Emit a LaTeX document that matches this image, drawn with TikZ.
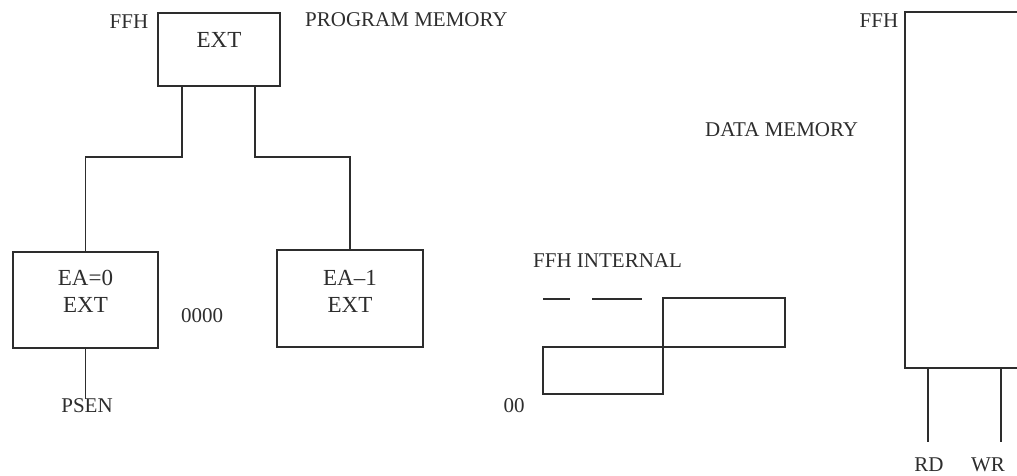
\documentclass[tikz,border=0pt]{standalone}
\usepackage{fontspec}
\setmainfont{Liberation Serif}
\usepackage{tikz}
\usetikzlibrary{positioning, calc}
\definecolor{ink}{RGB}{45, 45, 45}

\tikzset{
  membox/.style={draw=ink, line width=1.9pt, inner sep=0pt},
  boxtxt/.style={text=ink, font=\fontsize{23}{27}\selectfont, align=center, inner sep=0pt},
  lbl/.style={text=ink, font=\fontsize{21}{24}\selectfont, inner sep=0pt},
  wire/.style={draw=ink, line width=1.7pt}
}

\begin{document}
\begin{tikzpicture}[x=1pt, y=-1pt]
  \useasboundingbox (0,0) rectangle (1017,476);

  % program memory
  \node[membox, minimum width=122pt, minimum height=73pt] (ext) at (219,49.5) {};
  \node[boxtxt] (exttxt) at (219,40) {EXT};
  \node[lbl] (ffhp) at (129,22) {FFH};
  \node[lbl, anchor=west] (pmem) at (305,20) {PROGRAM MEMORY};

  \node[membox, minimum width=145pt, minimum height=96pt] (ea0) at (85.5,300) {};
  \node[boxtxt] (ea0txt) at (85.5,291) {EA=0\\EXT};
  \node[membox, minimum width=146pt, minimum height=97pt] (ea1) at (350,298.5) {};
  \node[boxtxt] (ea1txt) at (350,291) {EA--1\\EXT};
  \node[lbl] (zero4) at (202,316) {0000};
  \node[lbl] (psen) at (87,406) {PSEN};

  \draw[wire] ([xshift=-37pt]ext.south) -- ++(0,70) -| (ea0.north);
  \draw[wire] ([xshift=36pt]ext.south) -- ++(0,70) -| (ea1.north);
  \draw[wire] (ea0.south) -- (ea0.south |- psen.north);

  % internal data memory
  \node[lbl, anchor=west] (ffhint) at (533,261) {FFH INTERNAL};
  \node[lbl] (zero2) at (514,406) {00};
  \draw[wire] (543,299) -- (570,299);
  \draw[wire] (592,299) -- (642,299);
  \draw[wire] (543,347) rectangle (663,394);
  \draw[wire] (663,298) rectangle (785,347);

  % external data memory
  \node[lbl, anchor=west] (dmemtxt) at (705,130) {DATA MEMORY};
  \node[minimum width=112pt, minimum height=356pt, inner sep=0pt] (dmem) at (961,190) {};
  \draw[membox] (dmem.north east) -- (dmem.north west) -- (dmem.south west) -- (dmem.south east);
  \node[lbl] (ffhd) at (879,21) {FFH};
  \node[lbl] (rd) at (929,465) {RD};
  \node[lbl] (wr) at (988,465) {WR};
  \coordinate (rdend) at (928,442);
  \coordinate (wrend) at (1001,442);
  \draw[wire] (dmem.south west -| rdend) -- (rdend);
  \draw[wire] (dmem.south west -| wrend) -- (wrend);
\end{tikzpicture}
\end{document}
